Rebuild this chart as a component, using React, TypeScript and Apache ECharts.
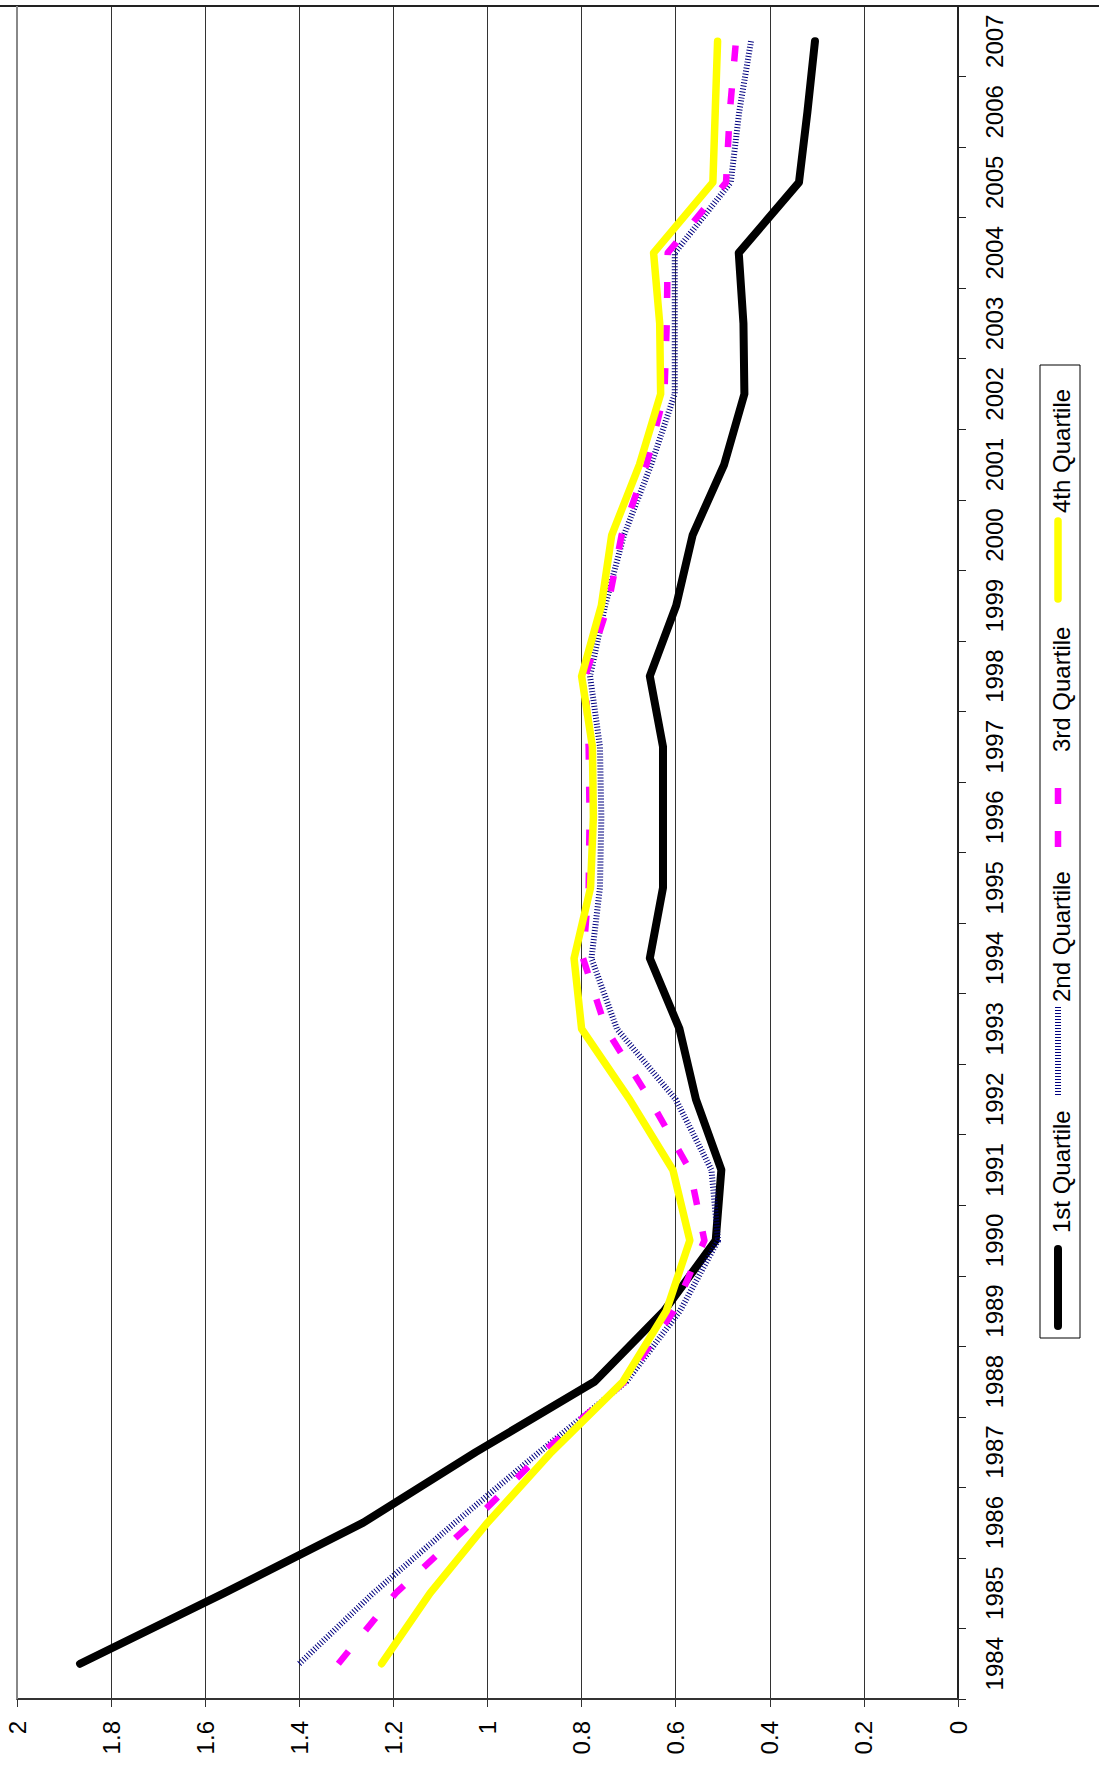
import React, { useEffect, useRef } from "react";
import * as echarts from "echarts";

const years = ["1984","1985","1986","1987","1988","1989","1990","1991","1992","1993","1994","1995","1996","1997","1998","1999","2000","2001","2002","2003","2004","2005","2006","2007"];
const q1 = [1.866, 1.56, 1.264, 1.025, 0.772, 0.625, 0.515, 0.503, 0.557, 0.592, 0.655, 0.627, 0.627, 0.627, 0.655, 0.599, 0.564, 0.497, 0.454, 0.456, 0.466, 0.338, 0.32, 0.304];
const q2 = [1.40, 1.243, 1.069, 0.89, 0.705, 0.591, 0.51, 0.524, 0.6, 0.725, 0.779, 0.761, 0.758, 0.761, 0.782, 0.75, 0.71, 0.652, 0.602, 0.602, 0.602, 0.483, 0.465, 0.44];
const q3 = [1.317, 1.195, 1.033, 0.882, 0.708, 0.604, 0.539, 0.57, 0.655, 0.748, 0.797, 0.785, 0.783, 0.785, 0.792, 0.744, 0.715, 0.662, 0.624, 0.619, 0.617, 0.493, 0.485, 0.472];
const q4 = [1.225, 1.122, 1.0, 0.864, 0.712, 0.62, 0.57, 0.606, 0.698, 0.80, 0.816, 0.781, 0.775, 0.777, 0.80, 0.758, 0.736, 0.677, 0.632, 0.634, 0.647, 0.521, 0.516, 0.511];
const seriesNames = ["1st Quartile", "2nd Quartile", "3rd Quartile", "4th Quartile"];

const FONT = 'Arial, "Liberation Sans", sans-serif';

function pairs(vals: number[]) {
  return vals.map((v, i) => [v, years[i]]);
}

export default function App() {
  const ref = useRef<HTMLDivElement>(null);
  useEffect(() => {
    if (!ref.current) return;
    const chart = echarts.init(ref.current, undefined, { renderer: "svg" });
    const styles = [
      { color: "#000000", width: 8, type: "solid", cap: "round", join: "round" },
      { color: "#00007f", width: 6, type: [1, 2], cap: "butt", join: "round" },
      { color: "#ff00ff", width: 6.5, type: [16, 27], cap: "butt", join: "round" },
      { color: "#ffff00", width: 7.5, type: "solid", cap: "round", join: "round" },
    ];
    const data = [q1, q2, q3, q4];
    const legendItems = [
      { y1: 1326, y2: 1249, ty: 1233 },
      { y1: 1095, y2: 1005, ty: 1002 },
      { y1: 847, y2: 762, ty: 752 },
      { y1: 599, y2: 521, ty: 513 },
    ];
    const graphics: any[] = [
      { type: "line", shape: { x1: 0, y1: 6, x2: 1099, y2: 6 }, style: { stroke: "#222", lineWidth: 2 }, z: 10 },
      { type: "line", shape: { x1: 17, y1: 6, x2: 17, y2: 1699 }, style: { stroke: "#888", lineWidth: 2 }, z: 10 },
      { type: "rect", shape: { x: 1040, y: 365, width: 40, height: 973 }, style: { fill: "#fff", stroke: "#000", lineWidth: 1 }, z: 10 },
    ];
    legendItems.forEach((it, i) => {
      const s = styles[i];
      graphics.push({
        type: "line",
        shape: { x1: 1058, y1: it.y1, x2: 1058, y2: it.y2 },
        style: { stroke: s.color, lineWidth: s.width, lineDash: typeof s.type === "string" ? null : s.type, lineCap: s.cap },
        z: 11,
      });
      graphics.push({
        type: "text",
        x: 1061,
        y: it.ty,
        rotation: Math.PI / 2,
        style: { text: seriesNames[i], fontSize: 24, fontFamily: FONT, fill: "#000", align: "left", verticalAlign: "middle", textAlign: "left", textVerticalAlign: "middle" },
        z: 11,
      });
    });
    chart.setOption({
      animation: false,
      grid: { left: 17, right: 141, top: 6, bottom: 68 },
      legend: { show: false },
      xAxis: {
        type: "value",
        min: 0,
        max: 2,
        interval: 0.2,
        inverse: true,
        position: "bottom",
        axisLine: { show: true, lineStyle: { color: "#333", width: 2 } },
        axisTick: { show: true, length: 8, lineStyle: { color: "#333", width: 1 } },
        splitLine: { show: true, lineStyle: { color: "#333", width: 1 } },
        axisLabel: { rotate: 90, fontSize: 24, fontFamily: FONT, color: "#000", margin: 22, formatter: (v: number) => String(Math.round(v * 10) / 10) },
      },
      yAxis: {
        type: "category",
        data: years,
        position: "right",
        boundaryGap: true,
        axisLine: { show: true, lineStyle: { color: "#222", width: 2 } },
        axisTick: { show: true, length: 8, lineStyle: { color: "#222", width: 1 } },
        splitLine: { show: false },
        axisLabel: { rotate: 90, fontSize: 24, fontFamily: FONT, color: "#000", margin: 24, interval: 0 },
      },
      series: data.map((d, i) => ({
        name: seriesNames[i],
        type: "line",
        data: pairs(d),
        symbol: "none",
        lineStyle: { color: styles[i].color, width: styles[i].width, type: styles[i].type, cap: styles[i].cap, join: styles[i].join },
        z: 2 + i,
      })),
      graphic: graphics,
    });
    return () => chart.dispose();
  }, []);
  return <div ref={ref} style={{ position: "absolute", left: 0, top: 0, width: 1099, height: 1767 }} />;
}
